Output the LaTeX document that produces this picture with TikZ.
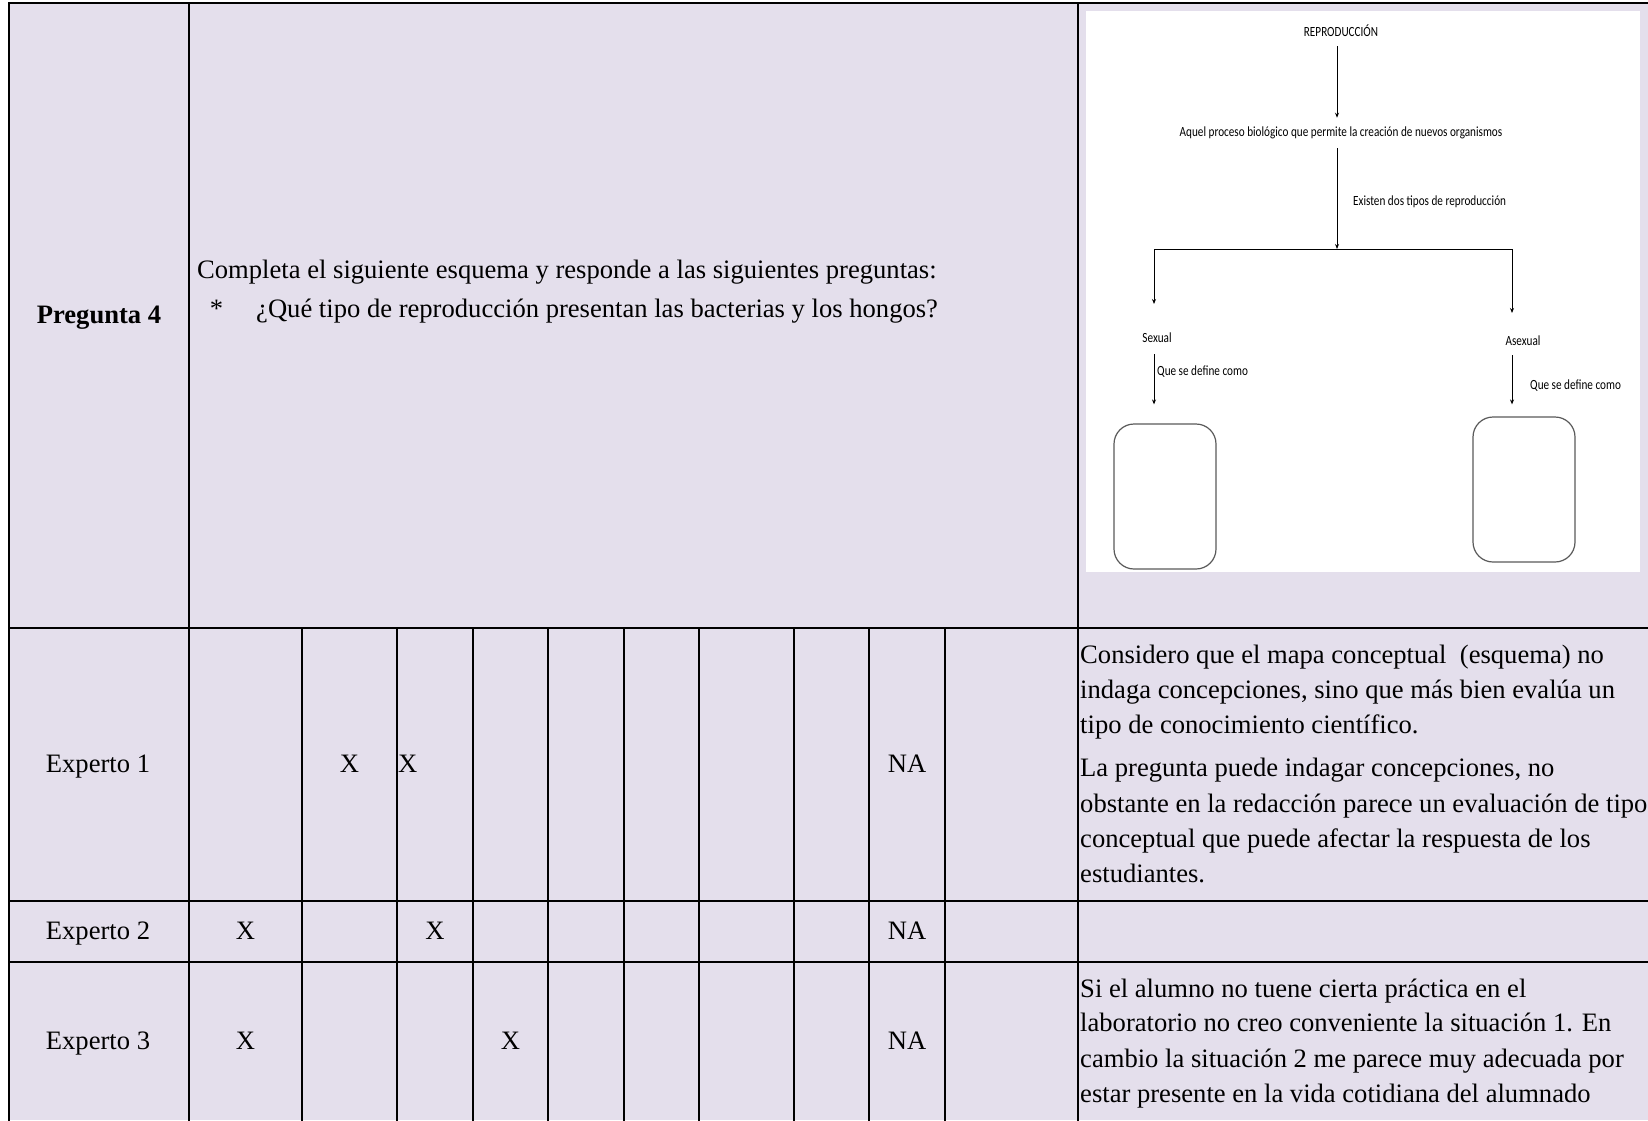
\documentclass[tikz,border=0pt]{standalone}
\usepackage{fontspec}
\setmainfont{Liberation Serif}
\newfontfamily\mapfont{Carlito}
\usetikzlibrary{arrows.meta}

\definecolor{cellbg}{HTML}{E4DFEC}
\definecolor{boxline}{HTML}{5A5A5A}

\tikzset{
  rule/.style={line width=2.2pt, line cap=rect},
  cell/.style={font=\fontsize{26.6}{32}\selectfont, inner sep=0pt, anchor=base},
  celltxt/.style={cell, anchor=base west},
  maptxt/.style={font=\mapfont\fontsize{14}{16}\selectfont, inner xsep=0pt, inner ysep=9pt},
  maparrow/.style={line width=0.9pt, -{Stealth[length=5pt,width=4pt]}},
  mapline/.style={line width=0.9pt},
  answerbox/.style={draw=boxline, line width=1.2pt, rounded corners=20pt,
    minimum width=102pt, minimum height=145pt, inner sep=0pt}
}
\newcommand{\narrow}[1]{\scalebox{0.8}[1]{#1}}

\begin{document}
\begin{tikzpicture}[x=1pt,y=-1pt]
\useasboundingbox (0,0) rectangle (1648,1120);

% cell background and the white panel holding the concept map
\fill[cellbg] (9,3) rectangle (1648,1120);
\fill[white] (1086,11) rectangle (1640,572);

% table rules
\draw[rule] (9,1120) -- (9,3) -- (1648,3);
\foreach \yy in {628,901,962} \draw[rule] (9,\yy) -- (1648,\yy);
\foreach \xx in {189,1078} \draw[rule] (\xx,3) -- (\xx,1120);
\foreach \xx in {302,397,473,548,624,699,794,869,945}
  \draw[rule] (\xx,628) -- (\xx,1120);

% header row
\node[cell, font=\fontsize{26.6}{32}\selectfont\bfseries] (preg) at (99,323) {Pregunta 4};
\node[celltxt] (enun) at (197,278) {Completa el siguiente esquema y responde a las siguientes preguntas:};
\node[cell, anchor=center] (star) at (216.5,309) {*};
\node[celltxt] (quest) at (256,317) {¿Qué tipo de reproducción presentan las bacterias y los hongos?};

% concept map
\node[maptxt] (repro) at (1341,31) {\narrow{REPRODUCCIÓN}};
\node[maptxt] (def) at (1341,133) {\narrow{Aquel proceso biológico que permite la creación de nuevos organismos}};
\coordinate (split) at (1337,249);
\coordinate (splitL) at (1154,249);
\coordinate (splitR) at (1512,249);
\node[maptxt, anchor=west] (tipos) at (1353,202) {\narrow{Existen dos tipos de reproducción}};
\node[maptxt] (sexual) at (1157,338) {\narrow{Sexual}};
\node[maptxt] (asexual) at (1523,341) {\narrow{Asexual}};
\node[maptxt, anchor=west] (defL) at (1157,372) {\narrow{Que se define como}};
\node[maptxt, anchor=west] (defR) at (1530,386) {\narrow{Que se define como}};
\node[answerbox] (boxL) at (1165,496.5) {};
\node[answerbox] (boxR) at (1524,489.5) {};

\draw[maparrow] ([xshift=-4pt]repro.south) -- ([xshift=-4pt]def.north);
\draw[maparrow] ([xshift=-4pt]def.south) -- (split);
\draw[mapline] (splitL) -- (splitR);
\draw[maparrow] (splitL) -- (splitL |- 0,304);
\draw[maparrow] (splitR) -- (splitR |- 0,313);
\draw[maparrow, shorten <=2pt, shorten >=19pt] (sexual.south -| splitL) -- (splitL |- boxL.north);
\draw[maparrow, shorten >=12pt] (asexual.south -| splitR) -- (splitR |- boxR.north);

% expert rows: names
\node[cell] (e1) at (98,772) {Experto 1};
\node[cell] (e2) at (98,939) {Experto 2};
\node[cell] (e3) at (98,1049) {Experto 3};

% expert rows: marks
\node[cell] (e1a) at (349.5,772) {X};
\node[cell, anchor=base west] (e1b) at (398,772) {X};
\node[cell] (e1na) at (907,772) {NA};
\node[cell] (e2a) at (245.5,939) {X};
\node[cell] (e2b) at (435,939) {X};
\node[cell] (e2na) at (907,939) {NA};
\node[cell] (e3a) at (245.5,1049) {X};
\node[cell] (e3b) at (510.5,1049) {X};
\node[cell] (e3na) at (907,1049) {NA};

% expert comments
\foreach \ln/\yy [count=\i] in {
  {Considero que el mapa conceptual\ \ (esquema) no}/663,
  {indaga concepciones, sino que más bien evalúa un}/698.5,
  {tipo de conocimiento científico.}/733,
  {La pregunta puede indagar concepciones, no}/776,
  {obstante en la redacción parece un evaluación de tipo}/812,
  {conceptual que puede afectar la respuesta de los}/847,
  {estudiantes.}/882}
  \node[celltxt] (c1l\i) at (1080,\yy) {\ln};

\foreach \ln/\yy [count=\i] in {
  {Si el alumno no tuene cierta práctica en el}/997,
  {laboratorio no creo conveniente la situación 1. En}/1031.6,
  {cambio la situación 2 me parece muy adecuada por}/1067,
  {estar presente en la vida cotidiana del alumnado}/1102}
  \node[celltxt] (c3l\i) at (1080,\yy) {\ln};
\end{tikzpicture}
\end{document}
